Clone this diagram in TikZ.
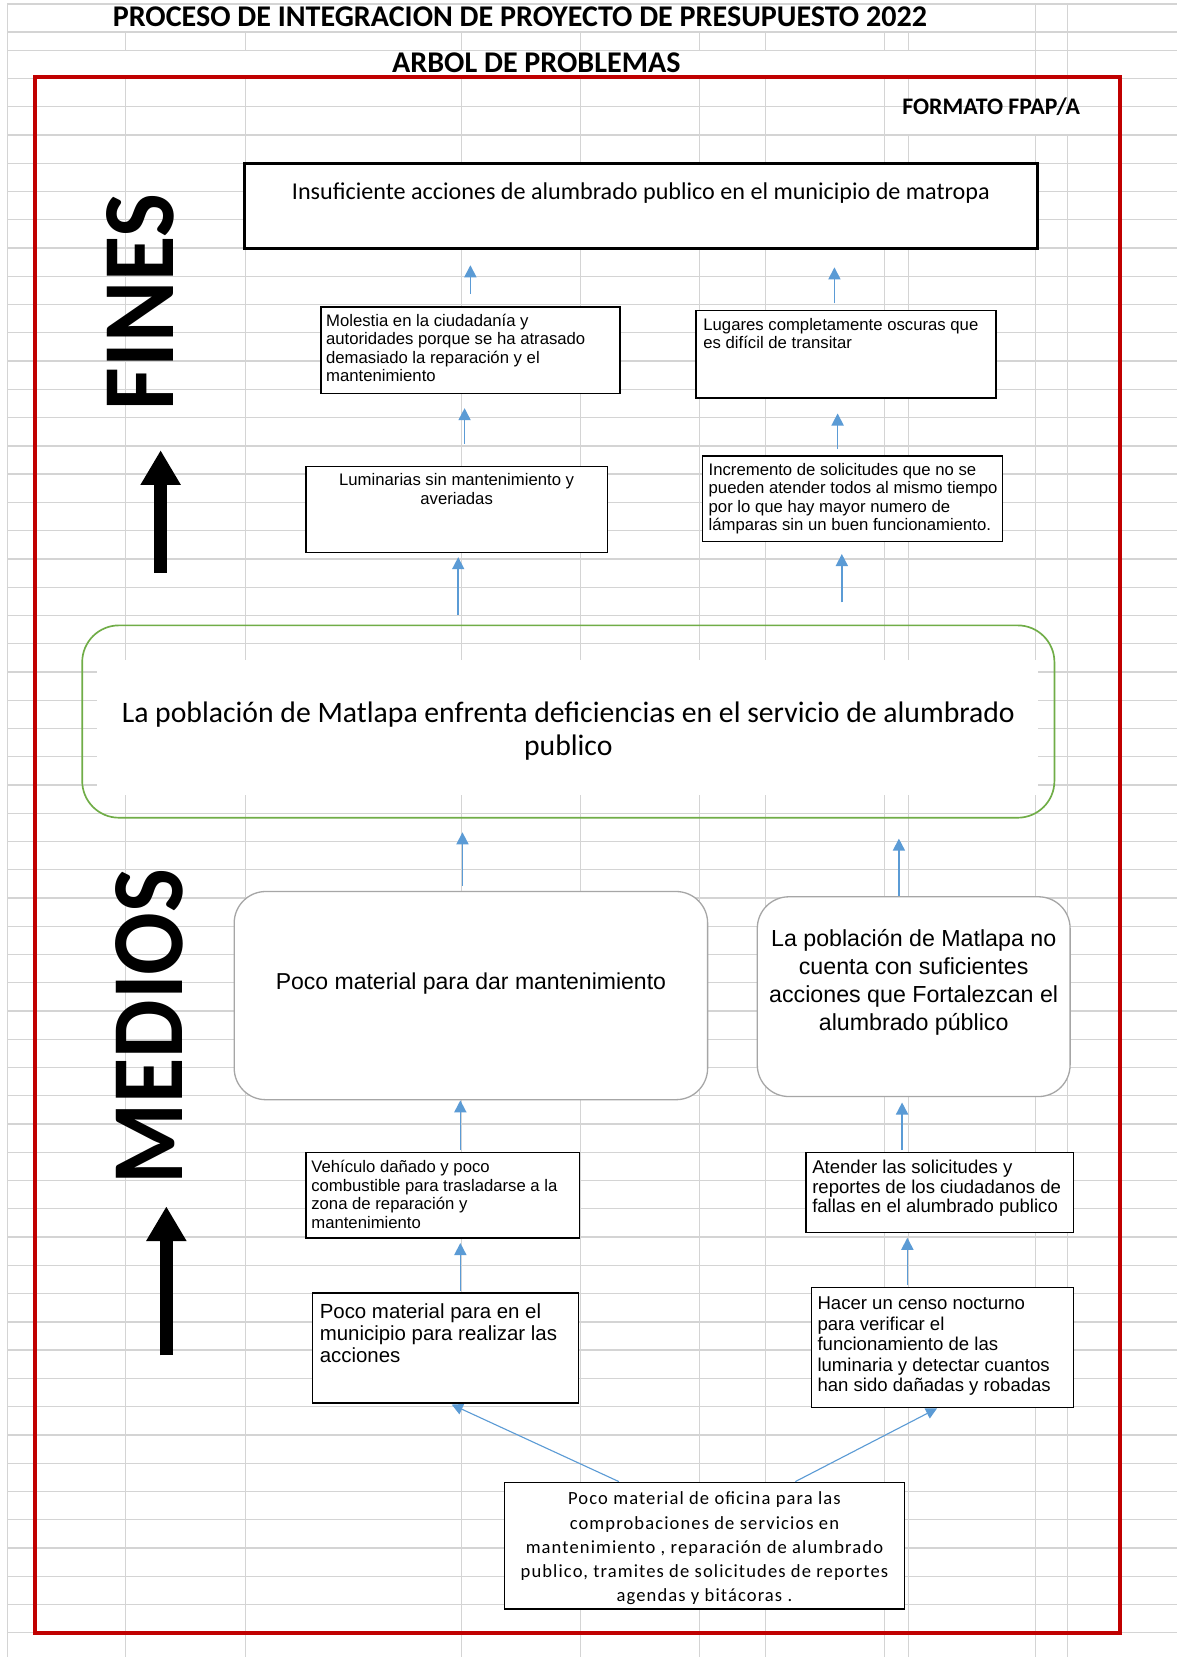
\documentclass[tikz,border=0pt]{standalone}
\usepackage{fontspec}
\setmainfont{Carlito}
\newfontfamily\fuenteArial{Liberation Sans}
\newfontfamily\fuenteEspaciada{Carlito}[LetterSpace=6]
\usetikzlibrary{arrows.meta}

\definecolor{RojoMarco}{HTML}{C00000}
\definecolor{AzulFlecha}{HTML}{5B9BD5}
\definecolor{VerdeProblema}{HTML}{70AD47}
\definecolor{GrisCaja}{HTML}{A6A6A6}
\definecolor{GrisRejilla}{HTML}{D4D4D4}

\newlength\unidad
\setlength\unidad{0.02cm}

% texto dentro de las cajas: alto, ancho, margen arriba (margen izq.), texto
\newcommand{\textoIzq}[5]{\parbox[c][#1\unidad][t]{#2\unidad}{\raggedright\leftskip=#4\unidad\relax\vspace*{#3\unidad}\strut#5}}
\newcommand{\textoCentro}[4]{\parbox[c][#1\unidad][t]{#2\unidad}{\centering\vspace*{#3\unidad}\strut#4}}

\tikzset{
    rejilla/.style={draw=GrisRejilla, line width=0.7pt},
    titulo/.style={font=\bfseries\fontsize{16.2}{19}\selectfont, inner sep=0pt},
    rotulo/.style={font=\bfseries\fontsize{50}{60}\selectfont, rotate=90, inner sep=0pt},
    caja/.style={draw, line width=0.7pt, fill=white, inner sep=0pt, anchor=north west},
    cajaRedonda/.style={caja, draw=GrisCaja, rounded corners=17pt},
    cajaProblema/.style={draw=VerdeProblema, line width=0.9pt, rounded corners=19.8pt, inner sep=0pt, anchor=north west},
    textoChico/.style={font=\fuenteArial\fontsize{9}{10}\selectfont},
    textoMedio/.style={font=\fuenteArial\fontsize{10}{10.6}\selectfont},
    textoCenso/.style={font=\fuenteArial\fontsize{10}{11}\selectfont},
    textoMunicipio/.style={font=\fuenteArial\fontsize{11}{12}\selectfont},
    textoMedios/.style={font=\fuenteArial\fontsize{12.5}{15.1}\selectfont},
    textoFin/.style={font=\fontsize{13}{14.4}\selectfont},
    textoProblema/.style={font=\fontsize{16}{18.1}\selectfont},
    textoOficina/.style={font=\fuenteEspaciada\fontsize{10}{13}\selectfont},
    flecha/.style={draw=AzulFlecha, line width=0.9pt, -{Triangle[width=6.5pt,length=6.5pt]}},
    flechaFina/.style={draw=AzulFlecha, line width=0.6pt, -{Triangle[width=6pt,length=6pt]}},
    flechaGrande/.style={line width=6.8pt, -{Triangle[width=20.4pt,length=18.7pt]}},
}

\begin{document}
\begin{tikzpicture}[x=0.02cm, y=-0.02cm]

    \useasboundingbox (0,0) rectangle (1114,1568);
    \fill[white] (0,0) rectangle (1114,1568);

    % Rejilla de la hoja

    \foreach \col in {7,119,232,437,549.5,662,724.5,837,860,980,1010}
        \draw[rejilla] (\col,3.8) -- (\col,1568);
    \foreach \fila in {3.8,30.4,47.7}
        \draw[rejilla] (7,\fila) -- (1114,\fila);
    \foreach \k in {0,...,55}
        \draw[rejilla] (7,74.3+26.74*\k) -- (1114,74.3+26.74*\k);

    \fill[white] (8,4.8) rectangle (979,29.4);
    \fill[white] (8,48.7) rectangle (979,73.3);
    \fill[white] (838.5,101.8) rectangle (1030,127);
    \fill[white] (92,625) rectangle (982,752);

    % Marco

    \draw[RojoMarco, line width=2.3pt] (33,73) rectangle (1060,1545);

    \node[titulo] (tituloProceso) at (492,16) {PROCESO DE INTEGRACION DE PROYECTO DE PRESUPUESTO 2022};
    \node[titulo] (tituloArbol) at (507.5,59) {ARBOL DE PROBLEMAS};
    \node[titulo, font=\bfseries\fontsize{12.8}{15}\selectfont] (formato) at (938,101) {FORMATO FPAP/A};

    \node[rotulo] (fines) at (133,285.5) {\scalebox{1}[1.1]{FINES}};
    \node[rotulo] (medios) at (141.5,971.5) {\scalebox{1}[1.1]{MEDIOS}};

    \coordinate (finesBase) at (152,542);
    \coordinate (finesPunta) at (152,426);
    \coordinate (mediosBase) at (157.4,1282.5);
    \coordinate (mediosPunta) at (157.4,1141.5);
    \draw[flechaGrande] (finesBase) -- (finesPunta);
    \draw[flechaGrande] (mediosBase) -- (mediosPunta);

    % Fines

    \node[caja, line width=1.7pt, textoFin] (fin) at (230,153)
    {\textoCentro{81}{750}{16.5}{Insuficiente acciones de alumbrado publico en el municipio de matropa}};

    \node[caja, textoChico] (molestia) at (303,290)
    {\textoIzq{82}{283}{5.6}{5}{Molestia en la ciudadanía y\\autoridades porque se ha atrasado\\demasiado la reparación y el\\mantenimiento}};
    \node[caja, textoChico] (lumin) at (289,441)
    {\textoCentro{81}{285}{5.6}{Luminarias sin mantenimiento y\\averiadas}};
    \node[caja, textoChico] (lugares) at (658,293)
    {\textoIzq{83}{284}{6.6}{7}{Lugares completamente oscuras que\\es difícil de transitar}};
    \node[caja, textoChico] (incremento) at (664,431)
    {\textoIzq{81}{284}{5.6}{6}{Incremento de solicitudes que no se\\pueden atender todos al mismo tiempo\\por lo que hay mayor numero de\\lámparas sin un buen funcionamiento.}};

    % Problema central

    \node[cajaProblema, textoProblema] (problema) at (77,591)
    {\textoCentro{182}{920}{69.5}{La población de Matlapa enfrenta deficiencias en el servicio de alumbrado\\publico}};

    % Medios

    \node[cajaRedonda, textoMedios, font=\fuenteArial\fontsize{12.4}{14.5}\selectfont] (medioA) at (221,843)
    {\textoCentro{197}{448}{75.1}{Poco material para dar mantenimiento}};
    \node[cajaRedonda, textoMedios] (medioB) at (716,848)
    {\textoCentro{189}{296}{28.4}{La población de Matlapa no\\cuenta con suficientes\\acciones que Fortalezcan el\\alumbrado público}};

    \node[caja, textoChico] (vehiculo) at (289,1090)
    {\textoIzq{81}{259}{6.6}{5}{Vehículo dañado y poco\\combustible para trasladarse a la\\zona de reparación y\\mantenimiento}};
    \node[caja, textoMedio] (atender) at (762,1090)
    {\textoIzq{76}{253}{6.9}{6}{Atender las solicitudes y\\reportes de los ciudadanos de\\fallas en el alumbrado publico}};
    \node[caja, textoMunicipio] (pocoMunicipio) at (295,1223)
    {\textoIzq{104}{252}{9.2}{7}{Poco material para en el\\municipio para realizar las\\acciones}};
    \node[caja, textoCenso] (censo) at (767,1218)
    {\textoIzq{113}{248}{7.4}{6}{Hacer un censo nocturno\\para verificar el\\funcionamiento de las\\luminaria y detectar cuantos\\han sido dañadas y robadas}};
    \node[caja, textoOficina] (oficina) at (477,1402)
    {\textoCentro{120}{378}{5.5}{Poco material de oficina para las\\comprobaciones de servicios en\\mantenimiento , reparación de alumbrado\\publico, tramites de solicitudes de reportes\\agendas y bitácoras .}};

    % Flechas

    \draw[flecha, shorten <=12\unidad, shorten >=14\unidad] (molestia.north) -- (molestia.north |- fin.south);
    \draw[flecha, shorten <=6\unidad, shorten >=16\unidad] ([xshift=-11\unidad]lugares.north) -- ([xshift=-11\unidad]lugares.north |- fin.south);
    \draw[flecha, shorten <=21\unidad, shorten >=13\unidad] ([xshift=7.5\unidad]lumin.north) -- ([xshift=7.5\unidad]lumin.north |- molestia.south);
    \draw[flecha, shorten <=6\unidad, shorten >=14\unidad] ([xshift=-14\unidad]incremento.north) -- ([xshift=-14\unidad]incremento.north |- lugares.south);
    \draw[flecha, shorten <=9\unidad, shorten >=4\unidad] ([xshift=1.5\unidad]lumin.south |- problema.north) -- ([xshift=1.5\unidad]lumin.south);
    \draw[flecha, shorten <=21\unidad, shorten >=11\unidad] ([xshift=-10\unidad]incremento.south |- problema.north) -- ([xshift=-10\unidad]incremento.south);
    \draw[flecha, shorten <=5\unidad, shorten >=13\unidad] ([xshift=-8\unidad]medioA.north) -- ([xshift=-8\unidad]medioA.north |- problema.south);
    \draw[flecha, shorten >=19\unidad] ([xshift=-14\unidad]medioB.north) -- ([xshift=-14\unidad]medioB.north |- problema.south);
    \draw[flecha, shorten <=2\unidad] ([xshift=16.5\unidad]vehiculo.north) -- ([xshift=16.5\unidad]vehiculo.north |- medioA.south);
    \draw[flecha, shorten <=2\unidad, shorten >=5\unidad] ([xshift=-35.5\unidad]atender.north) -- ([xshift=-35.5\unidad]atender.north |- medioB.south);
    \draw[flecha, shorten <=1\unidad, shorten >=4\unidad] ([xshift=14\unidad]pocoMunicipio.north) -- ([xshift=14\unidad]pocoMunicipio.north |- vehiculo.south);
    \draw[flecha, shorten <=2\unidad, shorten >=4\unidad] ([xshift=-33\unidad]censo.north) -- ([xshift=-33\unidad]censo.north |- atender.south);
    \draw[flechaFina, shorten >=2\unidad] ([xshift=-81\unidad]oficina.north) -- ([xshift=4\unidad]pocoMunicipio.south);
    \draw[flechaFina, shorten >=1\unidad] ([xshift=86\unidad]oficina.north) -- ([xshift=-4\unidad]censo.south);

\end{tikzpicture}
\end{document}
